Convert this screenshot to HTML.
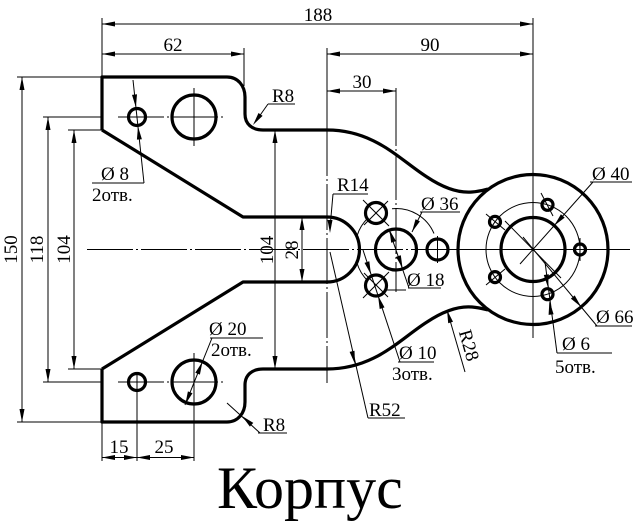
<!DOCTYPE html>
<html><head><meta charset="utf-8"><style>
html,body{margin:0;padding:0;background:#fff;}
svg{display:block;}
text{font-family:"Liberation Serif","DejaVu Serif",serif;font-size:19px;fill:#000;}
</style></head><body>
<svg width="641" height="525" viewBox="0 0 641 525" xmlns="http://www.w3.org/2000/svg">
<rect width="641" height="525" fill="#fff"/>
<g stroke="#000" stroke-width="1" fill="none" stroke-dasharray="46 3 2 3">
<line x1="87" y1="249.5" x2="630" y2="249.5"/>
<line x1="118" y1="117" x2="226" y2="117"/>
<line x1="118" y1="382" x2="226" y2="382"/>
<line x1="327" y1="130" x2="327" y2="383"/>
<line x1="396" y1="100" x2="396" y2="292"/>
<line x1="533" y1="165" x2="533" y2="338"/>
</g>
<g stroke="#000" stroke-width="1" fill="none">
<line x1="102" y1="18" x2="102" y2="77"/>
<line x1="533" y1="18" x2="533" y2="165"/>
<line x1="244" y1="48" x2="244" y2="86"/>
<line x1="327" y1="48" x2="327" y2="130"/>
<line x1="396" y1="88" x2="396" y2="100"/>
<line x1="17" y1="77" x2="102" y2="77"/>
<line x1="17" y1="422" x2="102" y2="422"/>
<line x1="43" y1="117" x2="102" y2="117"/>
<line x1="43" y1="382" x2="102" y2="382"/>
<line x1="68" y1="130" x2="102" y2="130"/>
<line x1="68" y1="369" x2="102" y2="369"/>
<line x1="102" y1="422" x2="102" y2="461"/>
<line x1="137" y1="372" x2="137" y2="461"/>
<line x1="194" y1="358" x2="194" y2="461"/>
<line x1="194" y1="88" x2="194" y2="146"/>
<line x1="194" y1="353" x2="194" y2="358"/>
<line x1="102" y1="24" x2="533" y2="24"/>
<line x1="102" y1="54" x2="244" y2="54"/>
<line x1="327" y1="54" x2="533" y2="54"/>
<line x1="327" y1="91" x2="396" y2="91"/>
<line x1="102" y1="457.5" x2="194" y2="457.5"/>
<line x1="22" y1="77" x2="22" y2="422"/>
<line x1="48" y1="117" x2="48" y2="382"/>
<line x1="74" y1="130" x2="74" y2="369"/>
<line x1="275" y1="130" x2="275" y2="369"/>
<line x1="302" y1="217" x2="302" y2="282"/>
<line x1="268" y1="104" x2="256" y2="121"/><line x1="268" y1="104" x2="295" y2="104"/>
<line x1="227" y1="403" x2="260" y2="433"/><line x1="258" y1="433" x2="287" y2="433"/>
<line x1="133" y1="80" x2="144" y2="183"/><line x1="92" y1="183" x2="144" y2="183"/>
<line x1="212" y1="338" x2="185" y2="405"/><line x1="210" y1="338" x2="263" y2="338"/>
<line x1="333" y1="194" x2="330" y2="228"/><line x1="333" y1="194" x2="368" y2="194"/>
<line x1="330" y1="252" x2="368" y2="418"/><line x1="368" y1="418" x2="405" y2="418"/>
<line x1="363" y1="250" x2="400" y2="362"/><line x1="398" y1="362" x2="434" y2="362"/>
<line x1="389" y1="229.6" x2="409" y2="288"/><line x1="408" y1="288" x2="441" y2="288"/>
<line x1="422" y1="212" x2="412" y2="232"/><line x1="420" y1="212" x2="460" y2="212"/>
<line x1="593" y1="182" x2="520" y2="264"/><line x1="590" y1="182" x2="632" y2="182"/>
<line x1="523" y1="237" x2="597" y2="326"/><line x1="595" y1="326" x2="632" y2="326"/>
<line x1="545" y1="262" x2="557" y2="353"/><line x1="557" y1="353" x2="612" y2="353"/>
<line x1="447" y1="310" x2="465" y2="372"/>
<circle cx="533" cy="249.5" r="47"/>
<path d="M392,208.7 A41,41 0 0 1 434,233.5"/>
<path d="M357,236 A41,41 0 0 1 368,218"/>
<path d="M357,263 A41,41 0 0 0 368,281"/>
<line x1="363" y1="200" x2="389" y2="226"/><line x1="388" y1="201" x2="364" y2="225"/>
<line x1="363" y1="298" x2="389" y2="272"/><line x1="388" y1="297" x2="364" y2="273"/>
<line x1="424" y1="249.5" x2="451" y2="249.5"/><line x1="437.5" y1="236" x2="437.5" y2="263"/>
<line x1="386" y1="290" x2="406" y2="290"/>
<line x1="505" y1="221" x2="561" y2="278"/><line x1="541" y1="193" x2="553" y2="216"/>
<line x1="486" y1="214" x2="505" y2="230"/><line x1="486" y1="285" x2="505" y2="269"/>
<line x1="568" y1="249.5" x2="595" y2="249.5"/><line x1="580" y1="238" x2="580" y2="261"/>
<line x1="445" y1="249.5" x2="630" y2="249.5"/>
<line x1="533" y1="160" x2="533" y2="338"/>
</g>
<g fill="#000" stroke="none">
<polygon points="102,24 115,21.5 115,26.5"/>
<polygon points="533,24 520,21.5 520,26.5"/>
<polygon points="102,54 115,51.5 115,56.5"/>
<polygon points="244,54 231,51.5 231,56.5"/>
<polygon points="327,54 340,51.5 340,56.5"/>
<polygon points="533,54 520,51.5 520,56.5"/>
<polygon points="327,91 340,88.5 340,93.5"/>
<polygon points="396,91 383,88.5 383,93.5"/>
<polygon points="102,457.5 115,455 115,460"/>
<polygon points="137,457.5 124,455 124,460"/>
<polygon points="137,457.5 150,455 150,460"/>
<polygon points="194,457.5 181,455 181,460"/>
<polygon points="22,77 19.5,90 24.5,90"/>
<polygon points="22,422 19.5,409 24.5,409"/>
<polygon points="48,117 45.5,130 50.5,130"/>
<polygon points="48,382 45.5,369 50.5,369"/>
<polygon points="74,130 71.5,143 76.5,143"/>
<polygon points="74,369 71.5,356 76.5,356"/>
<polygon points="275,130 272.5,143 277.5,143"/>
<polygon points="275,369 272.5,356 277.5,356"/>
<polygon points="302,217 299.5,230 304.5,230"/>
<polygon points="302,282 299.5,269 304.5,269"/>
<polygon points="253,125 262.6,115.9 258.5,113"/>
<polygon points="242,416 253.3,422.9 249.9,426.6"/>
<polygon points="135.9,107.5 137,94.3 132,94.9"/>
<polygon points="138,126.5 141.9,139.2 136.9,139.6"/>
<polygon points="202.5,361.6 199.9,374.6 195.3,372.8"/>
<polygon points="185.3,404.4 192.5,393.2 187.9,391.4"/>
<polygon points="330,233 327.5,220 332.5,220"/>
<polygon points="355,364 354.5,350.7 349.6,351.9"/>
<polygon points="371,274.5 369.3,261.3 364.5,262.9"/>
<polygon points="378,295.5 384.5,307.4 379.7,309"/>
<polygon points="389.4,229.6 396,241.1 391.2,242.7"/>
<polygon points="402.6,268.4 400.8,255.3 396,256.9"/>
<polygon points="412,232 415.5,219.2 419.9,221.4"/>
<polygon points="554.2,225.6 564.7,217.6 560.9,214.2"/>
<polygon points="581.2,307 574.7,295.4 570.9,298.6"/>
<polygon points="548,287.5 548.8,274.3 543.8,275"/>
<polygon points="549.4,301 553.6,314.2 548.6,314.9"/>
<polygon points="447,310 453,321.8 448.2,323.2"/>
</g>
<g stroke="#000" stroke-width="3.2" fill="none" stroke-linejoin="round">
<path d="M102,130 L102,77 L227,77 C238,77 245,86 245,97 L245,114 C245,124 252,130 263,130 L327,130 C375,130 400,160 427,177 C445,189 460,193 472,192 C479,191.5 484,190 488,189"/>
<path d="M102,369 L102,422 L227,422 C238,422 245,413 245,402 L245,385 C245,375 252,369 263,369 L327,369 C375,369 400,339 427,322 C445,310 460,306 472,307 C479,307.5 484,309 488,310"/>
<path d="M102,130 L243,217 L327,217 A32.5,32.5 0 0 1 327,282 L243,282 L102,369"/>
<circle cx="137" cy="117" r="8.5"/>
<circle cx="194" cy="117" r="22"/>
<circle cx="137" cy="382" r="8.5"/>
<circle cx="194" cy="382" r="22"/>
<circle cx="396" cy="249.5" r="20.5"/>
<circle cx="376" cy="213" r="10.5"/>
<circle cx="376" cy="285.5" r="10.5"/>
<circle cx="437.5" cy="249.5" r="10.5"/>
<circle cx="533" cy="249.5" r="75"/>
<circle cx="533" cy="249.5" r="32"/>
<circle cx="580" cy="249.5" r="5.5"/>
<circle cx="547.5" cy="204.8" r="5.5"/>
<circle cx="547.5" cy="294.2" r="5.5"/>
<circle cx="495" cy="221.9" r="5.5"/>
<circle cx="495" cy="277.1" r="5.5"/>
</g>
<g>
<text x="318" y="21" text-anchor="middle">188</text>
<text x="173" y="51" text-anchor="middle">62</text>
<text x="430" y="51" text-anchor="middle">90</text>
<text x="362" y="88" text-anchor="middle">30</text>
<text x="119" y="453" text-anchor="middle">15</text>
<text x="164" y="453" text-anchor="middle">25</text>
<text x="17" y="249.5" text-anchor="middle" transform="rotate(-90 17 249.5)">150</text>
<text x="43" y="249.5" text-anchor="middle" transform="rotate(-90 43 249.5)">118</text>
<text x="70" y="249.5" text-anchor="middle" transform="rotate(-90 70 249.5)">104</text>
<text x="273" y="250" text-anchor="middle" transform="rotate(-90 273 250)">104</text>
<text x="298" y="250" text-anchor="middle" transform="rotate(-90 298 250)">28</text>
<text x="272" y="102">R8</text>
<text x="263" y="431">R8</text>
<text x="101" y="180">Ø 8</text>
<text x="92" y="201">2отв.</text>
<text x="209" y="335">Ø 20</text>
<text x="211" y="356">2отв.</text>
<text x="337" y="191">R14</text>
<text x="421" y="210">Ø 36</text>
<text x="407" y="286">Ø 18</text>
<text x="399" y="359">Ø 10</text>
<text x="392" y="380">3отв.</text>
<text x="369" y="416">R52</text>
<text x="463" y="347" text-anchor="middle" transform="rotate(74 463 347)">R28</text>
<text x="592" y="180">Ø 40</text>
<text x="596" y="323">Ø 66</text>
<text x="562" y="350">Ø 6</text>
<text x="555" y="373">5отв.</text>
<text x="217" y="508" style="font-size:60px">Корпус</text>
</g>
</svg>
</body></html>
